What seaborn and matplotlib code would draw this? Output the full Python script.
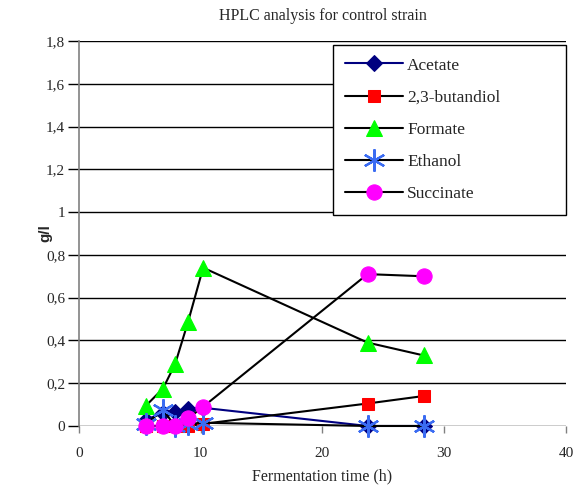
import matplotlib
matplotlib.use("Agg")
import matplotlib.pyplot as plt
import seaborn as sns
import pandas as pd
from matplotlib.ticker import FixedLocator, FuncFormatter

sns.set_theme(style="white")
plt.rcParams['font.family'] = ['Liberation Serif', 'DejaVu Serif']

# Sampling times (h) and concentrations (g/l)
time_h = [5.5, 6.9, 7.9, 8.95, 10.2, 23.7, 28.3]
acetate = [0.03, 0.06, 0.065, 0.08, 0.085, 0.0, 0.0]
butanediol = [0.0, 0.0, 0.0, 0.0, 0.01, 0.105, 0.14]
formate = [0.095, 0.175, 0.29, 0.485, 0.74, 0.39, 0.33]
ethanol = [0.01, 0.075, 0.0, 0.01, 0.015, 0.0, 0.0]
succinate = [0.0, 0.0, 0.0, 0.035, 0.09, 0.71, 0.70]

series_names = ["Acetate", "2,3-butandiol", "Formate", "Ethanol", "Succinate"]
series_values = [acetate, butanediol, formate, ethanol, succinate]

styles = {
    "Acetate":       dict(color="#000080", marker="D", markersize=8, markerfacecolor="#000080", markeredgecolor="#000080"),
    "2,3-butandiol": dict(color="black", marker="s", markersize=9, markerfacecolor="#ff0000", markeredgecolor="#ff0000"),
    "Formate":       dict(color="black", marker="^", markersize=11, markerfacecolor="#00ff00", markeredgecolor="#00ff00"),
    "Ethanol":       dict(color="black", marker=(6, 2, 0), markersize=16, markerfacecolor="#3b6cf2",
                          markeredgecolor="#3b6cf2", markeredgewidth=1.6),
    "Succinate":     dict(color="black", marker="o", markersize=11, markerfacecolor="#ff00ff", markeredgecolor="#ff00ff"),
}

df = pd.DataFrame({"time": time_h * len(series_names),
                   "conc": sum(series_values, []),
                   "compound": [n for n in series_names for _ in time_h]})

fig = plt.figure(figsize=(5.74, 4.87), dpi=100)
ax = fig.add_axes([0.1376, 0.1253, 0.8484, 0.7905])

for name in series_names:
    sub = df[df["compound"] == name]
    sns.lineplot(data=sub, x="time", y="conc", ax=ax, label=name, linewidth=1.5,
                 estimator=None, sort=False, clip_on=False, zorder=3, **styles[name])

ax.set_xlim(0, 40)
ax.set_ylim(0, 1.8)
ax.xaxis.set_major_locator(FixedLocator([0, 10, 20, 30, 40]))
ax.yaxis.set_major_locator(FixedLocator([0.2 * i for i in range(10)]))
ax.yaxis.set_major_formatter(FuncFormatter(lambda v, p: ("%g" % round(v, 1)).replace(".", ",")))

for v in [0.2 * i for i in range(10)]:
    ax.axhline(v, color="black", linewidth=1.0, zorder=1)

for s in ["top", "right"]:
    ax.spines[s].set_visible(False)
ax.spines["bottom"].set_visible(False)
ax.spines["left"].set_color("#808080")
ax.spines["left"].set_linewidth(1.2)

ax.tick_params(axis="y", which="major", left=True, length=8, width=1.0, color="black",
               labelsize=11, pad=2)
ax.tick_params(axis="x", which="major", bottom=True, length=5, width=1.0, color="#808080",
               labelsize=11, pad=10, direction="out")

ax.set_xlabel("Fermentation time (h)", fontsize=11.5, labelpad=6)
ax.set_ylabel("g/l", fontsize=11, fontweight="bold", family=["Liberation Sans"], labelpad=0)
ax.yaxis.set_label_coords(-0.055, 0.5)
ax.set_title("HPLC analysis for control strain", fontsize=11.5, pad=15)

leg = ax.legend(loc="upper left", bbox_to_anchor=(0.5216, 0.553, 0.4784, 0.437),
                mode="expand", frameon=True, fancybox=False, framealpha=1.0,
                edgecolor="black", fontsize=12.5, labelspacing=0.92, handlelength=3.3,
                borderpad=0.72, handletextpad=0.25, borderaxespad=0.0)
leg.get_frame().set_linewidth(1.0)
leg.set_zorder(5)

fig.savefig("out.png", dpi=100)
